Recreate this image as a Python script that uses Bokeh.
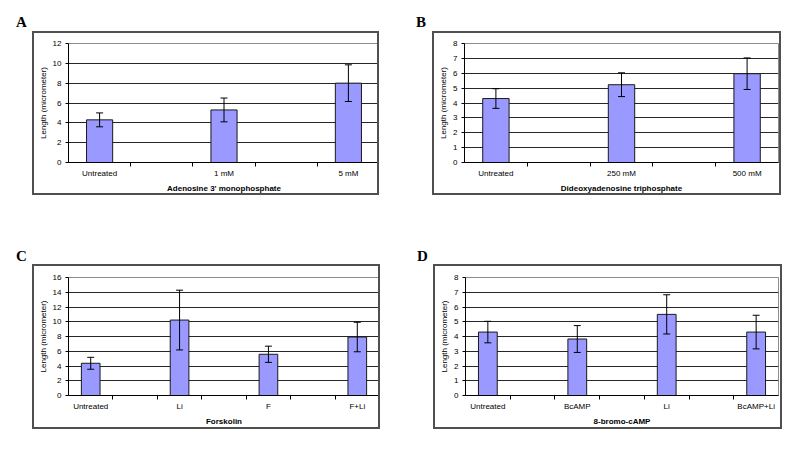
from bokeh.plotting import figure
from bokeh.layouts import column, row
from bokeh.models import (ColumnDataSource, Range1d, FixedTicker, Whisker, TeeHead, Div)
from bokeh.embed import file_html
from bokeh.resources import INLINE

# ---- data ----
a_categories = ["Untreated", "1 mM", "5 mM"]
a_means = [4.3, 5.3, 8.0]
a_errors = [0.7, 1.2, 1.85]
a_title = "Adenosine 3' monophosphate"
a_yticks = [0, 2, 4, 6, 8, 10, 12]

b_categories = ["Untreated", "250 mM", "500 mM"]
b_means = [4.3, 5.23, 5.97]
b_errors = [0.66, 0.8, 1.06]
b_title = "Dideoxyadenosine triphosphate"
b_yticks = [0, 1, 2, 3, 4, 5, 6, 7, 8]

c_categories = ["Untreated", "Li", "F", "F+Li"]
c_means = [4.37, 10.23, 5.59, 7.93]
c_errors = [0.81, 4.05, 1.1, 2.0]
c_title = "Forskolin"
c_yticks = [0, 2, 4, 6, 8, 10, 12, 14, 16]

d_categories = ["Untreated", "BcAMP", "Li", "BcAMP+Li"]
d_means = [4.3, 3.83, 5.5, 4.3]
d_errors = [0.73, 0.91, 1.33, 1.14]
d_title = "8-bromo-cAMP"
d_yticks = [0, 1, 2, 3, 4, 5, 6, 7, 8]

y_label = "Length (micrometer)"
panel_letters = ["A", "B", "C", "D"]

FONT = "Liberation Sans"
BORDER = 2


def panel(cats, means, errs, xtitle, yticks, W, H, frame, margin):
    n = len(cats)
    slots = 2 * n - 1          # Excel layout: blank category between each bar
    xs = [4 * i + 1 for i in range(n)]
    src = ColumnDataSource(dict(x=xs, top=means,
                                upper=[m + e for m, e in zip(means, errs)],
                                lower=[m - e for m, e in zip(means, errs)]))
    fl, ft, fr, fb = frame
    p = figure(width=W, height=H, output_backend="svg", toolbar_location=None,
               x_range=Range1d(0, 2 * slots), y_range=Range1d(0, yticks[-1]),
               min_border_left=fl, min_border_top=ft,
               min_border_right=W - fr, min_border_bottom=H - fb,
               margin=margin,
               styles={"border": f"{BORDER}px solid #505050"})
    p.background_fill_color = "white"
    p.border_fill_color = "white"
    p.outline_line_color = "#8c8c8c"
    p.outline_line_width = 1

    p.vbar(x="x", top="top", width=0.84, source=src, fill_color="#9999FF",
           line_color="#1a1a1a", line_width=1)
    wh = Whisker(base="x", upper="upper", lower="lower", source=src,
                 line_color="black", line_width=1, level="overlay",
                 upper_head=TeeHead(size=7, line_color="black", line_width=1),
                 lower_head=TeeHead(size=7, line_color="black", line_width=1))
    p.add_layout(wh)

    # x axis
    p.xaxis.ticker = FixedTicker(ticks=xs, minor_ticks=list(range(2, 2 * slots, 2)))
    p.xaxis.major_label_overrides = {x: c for x, c in zip(xs, cats)}
    p.xaxis.major_tick_out = 0
    p.xaxis.major_tick_in = 0
    p.xaxis.minor_tick_out = 4
    p.xaxis.minor_tick_in = 0
    p.xaxis.minor_tick_line_color = "black"
    p.xaxis.major_label_standoff = 2
    p.xaxis.axis_label = xtitle
    p.xaxis.axis_label_standoff = 3
    p.xaxis.axis_label_text_font_style = "bold"

    # y axis
    p.yaxis.ticker = FixedTicker(ticks=yticks)
    p.yaxis.major_tick_out = 3
    p.yaxis.major_tick_in = 0
    p.yaxis.major_tick_line_color = "black"
    p.yaxis.minor_tick_line_color = None
    p.yaxis.major_label_standoff = 4
    p.yaxis.axis_label = y_label
    p.yaxis.axis_label_standoff = 2
    p.yaxis.axis_label_text_font_style = "normal"

    for ax in (p.xaxis[0], p.yaxis[0]):
        ax.axis_line_color = "black"
        ax.major_label_text_font = FONT
        ax.major_label_text_font_size = "8px"
        ax.major_label_text_color = "black"
        ax.axis_label_text_font = FONT
        ax.axis_label_text_font_size = "8px"
        ax.axis_label_text_color = "black"
    p.xaxis.major_tick_line_color = None

    p.xgrid.grid_line_color = None
    p.ygrid.ticker = FixedTicker(ticks=yticks)
    p.ygrid.grid_line_color = "#262626"
    p.ygrid.grid_line_width = 1
    return p


def letter(t, margin):
    return Div(text=t, width=14, height=18, margin=margin,
               styles={"font-family": "Liberation Serif", "font-weight": "bold",
                       "font-size": "15px", "line-height": "17px", "color": "black"})


# canvas sizes = outer box size (image px) minus the CSS border on both sides
# outer boxes: A 351x168, B 353x168, C 352x169, D 353x169
pA = panel(a_categories, a_means, a_errors, a_title, a_yticks,
           351 - 2 * BORDER, 168 - 2 * BORDER, (34, 10, 345, 129), (31, 0, 0, 2))
pB = panel(b_categories, b_means, b_errors, b_title, b_yticks,
           353 - 2 * BORDER, 168 - 2 * BORDER, (30, 10, 344, 129), (31, 0, 0, 2))
pC = panel(c_categories, c_means, c_errors, c_title, c_yticks,
           352 - 2 * BORDER, 169 - 2 * BORDER, (34, 11, 345, 129), (69, 0, 0, 2))
pD = panel(d_categories, d_means, d_errors, d_title, d_yticks,
           353 - 2 * BORDER, 169 - 2 * BORDER, (30, 11, 343, 129), (69, 0, 0, 2))

lA = letter(panel_letters[0], (14, 0, 0, 16))
lB = letter(panel_letters[1], (14, 0, 0, 37))
lC = letter(panel_letters[2], (53, 0, 0, 16))
lD = letter(panel_letters[3], (53, 0, 0, 37))

layout = column(row(lA, pA, lB, pB), row(lC, pC, lD, pD))

open("out.html", "w").write(file_html(layout, INLINE))
